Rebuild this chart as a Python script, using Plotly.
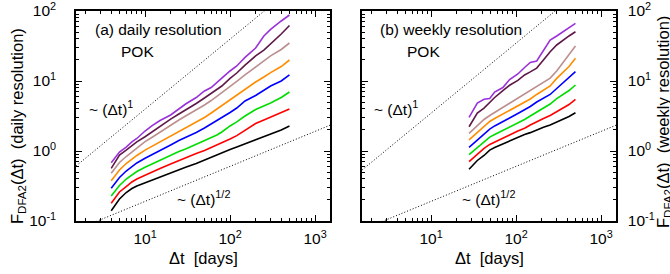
import plotly.graph_objects as go

W, H = 670, 274

# ---------------- data: panel (a) daily resolution ----------------
dt_daily = [4, 5, 6, 7, 8, 10, 12, 15, 20, 25, 30, 40, 50, 60, 70, 80,
            100, 120, 150, 200, 250, 300, 400, 500]
daily_black = [0.140, 0.206, 0.255, 0.291, 0.316, 0.352, 0.385, 0.425, 0.485, 0.544, 0.585, 0.663,
               0.743, 0.82, 0.891, 0.953, 1.05, 1.14, 1.26, 1.44, 1.61, 1.75, 2.0, 2.28]
daily_red = [0.179, 0.26, 0.311, 0.361, 0.398, 0.454, 0.50, 0.562, 0.652, 0.732, 0.80, 0.921,
             1.02, 1.12, 1.22, 1.30, 1.48, 1.66, 2.0, 2.47, 2.77, 3.06, 3.49, 3.98]
daily_green = [0.228, 0.321, 0.398, 0.461, 0.509, 0.585, 0.652, 0.743, 0.863, 0.984, 1.07, 1.24,
               1.39, 1.53, 1.69, 1.87, 2.28, 2.6, 3.16, 3.92, 4.4, 4.85, 5.81, 6.96]
daily_blue = [0.293, 0.418, 0.518, 0.601, 0.675, 0.787, 0.877, 1.02, 1.22, 1.41, 1.56, 1.84,
              2.13, 2.43, 2.73, 2.96, 3.55, 4.11, 5.18, 6.21, 7.44, 8.48, 10.0, 12.2]
daily_orange = [0.377, 0.535, 0.663, 0.769, 0.863, 1.03, 1.16, 1.35, 1.64, 1.90, 2.13, 2.55,
                3.01, 3.49, 3.98, 4.47, 5.44, 6.31, 7.69, 9.68, 11.4, 13.2, 16.1, 19.95]
daily_tan = [0.48, 0.685, 0.834, 0.968, 1.09, 1.36, 1.56, 1.87, 2.31, 2.77, 3.16, 3.85,
             4.54, 5.26, 6.01, 6.74, 8.34, 9.84, 12.2, 15.8, 19.3, 22.8, 28.2, 34.9]
daily_maroon = [0.566, 0.877, 1.03, 1.2, 1.35, 1.6, 1.87, 2.28, 2.86, 3.38, 3.85, 4.77,
                5.71, 6.63, 7.56, 8.48, 10.9, 13.0, 16.9, 22.8, 27.7, 33.8, 46.9, 62.1]
daily_purple = [0.68, 0.968, 1.14, 1.35, 1.51, 1.93, 2.28, 2.73, 3.27, 3.98, 4.69, 5.81,
                7.2, 8.07, 9.68, 11.0, 13.9, 16.4, 21.7, 29.6, 44.0, 54.5, 72.0, 87.7]

# ---------------- data: panel (b) weekly resolution ----------------
dt_weekly = [28, 35, 42, 49, 56, 70, 84, 105, 126, 147, 175, 210, 252, 301, 350, 420, 500]
weekly_black = [0.548, 0.732, 0.863, 1.03, 1.12, 1.26, 1.39, 1.58, 1.72, 1.83, 2.01, 2.19,
                2.35, 2.58, 2.77, 3.11, 3.52]
weekly_red = [0.703, 0.906, 1.09, 1.24, 1.33, 1.51, 1.69, 1.93, 2.11, 2.35, 2.64, 2.91,
              3.21, 3.67, 4.07, 4.61, 5.48]
weekly_green = [0.885, 1.12, 1.37, 1.58, 1.72, 1.96, 2.2, 2.55, 2.82, 3.16, 3.61, 4.14,
                4.69, 5.62, 6.31, 7.31, 8.77]
weekly_blue = [1.13, 1.44, 1.78, 2.06, 2.28, 2.6, 2.96, 3.43, 3.85, 4.32, 5.01, 5.71,
               6.42, 7.81, 9.21, 11.0, 13.6]
weekly_orange = [1.44, 1.84, 2.28, 2.64, 2.91, 3.38, 3.79, 4.4, 5.01, 5.53, 6.42, 7.44,
                 8.48, 10.9, 13.0, 16.1, 21.1]
weekly_tan = [1.79, 2.31, 2.82, 3.21, 3.55, 4.18, 4.85, 5.71, 6.41, 7.2, 8.34, 9.68,
              11.0, 13.9, 17.8, 23.5, 31.6]
weekly_maroon = [2.22, 3.49, 4.11, 5.01, 5.81, 7.31, 8.69, 10.2, 12.2, 13.5, 15.3, 19.95,
                 26.2, 32.7, 37.9, 44.0, 50.6]
weekly_purple = [3.03, 4.85, 5.48, 5.62, 6.96, 8.07, 10.5, 12.6, 15.6, 18.4, 19.3, 27.7,
                 38.5, 44.0, 50.1, 57.2, 66.7]

series_colors = ["#000000", "#ff0000", "#00dd00", "#0000ff",
                 "#ff8c00", "#bc8f8f", "#5e1848", "#9a32d8"]

daily_series = [daily_black, daily_red, daily_green, daily_blue,
                daily_orange, daily_tan, daily_maroon, daily_purple]
weekly_series = [weekly_black, weekly_red, weekly_green, weekly_blue,
                 weekly_orange, weekly_tan, weekly_maroon, weekly_purple]

# power-law guide lines: (prefactor, exponent)
guide_x = [1.0, 3000.0]
daily_guides = [(0.396, 1.0), (0.0603, 0.5)]
weekly_guides = [(0.347, 1.0), (0.0603, 0.5)]

x_tick_vals = [10, 100, 1000]
x_tick_text = ["10<sup>1</sup>", "10<sup>2</sup>", "10<sup>3</sup>"]
y_tick_vals = [0.1, 1, 10, 100]
y_tick_text = ["10<sup>-1</sup>", "10<sup>0</sup>", "10<sup>1</sup>", "10<sup>2</sup>"]
x_minor_vals = [m * 10 ** e for e in range(0, 4) for m in range(2, 10)]
y_minor_vals = [m * 10 ** e for e in range(-1, 2) for m in range(2, 10)]

# ---------------- figure ----------------
FONT = "Liberation Sans, Arial, Helvetica, sans-serif"
fig = go.Figure()

# invisible traces on the minor-tick axes (drawn first, underneath)
for xa, ya in [("x3", "y3"), ("x4", "y4")]:
    fig.add_trace(go.Scatter(x=[10], y=[1], mode="markers", marker=dict(opacity=0),
                             xaxis=xa, yaxis=ya, showlegend=False, hoverinfo="skip"))

for xa, ya, dts, sers, guides in [("x", "y", dt_daily, daily_series, daily_guides),
                                  ("x2", "y2", dt_weekly, weekly_series, weekly_guides)]:
    for (a, b) in guides:
        fig.add_trace(go.Scatter(x=guide_x, y=[a * g ** b for g in guide_x], mode="lines",
                                 line=dict(color="black", width=1, dash="1px,2px"),
                                 xaxis=xa, yaxis=ya, showlegend=False, hoverinfo="skip"))
    for vals, col in zip(sers, series_colors):
        fig.add_trace(go.Scatter(x=dts, y=vals, mode="lines",
                                 line=dict(color=col, width=1.6),
                                 xaxis=xa, yaxis=ya, showlegend=False))


def px_x(p):
    return p / W


def px_y(p):
    return 1 - p / H


xrange_log = [0.1875, 3.176]
yrange_log = [-1, 2]
xdom1 = [px_x(76), px_x(330)]
xdom2 = [px_x(362), px_x(616)]
ydom = [px_y(221), px_y(11)]

common = dict(type="log", ticks="inside", ticklen=6, tickwidth=1, tickcolor="black",
              showline=True, linecolor="black", linewidth=1.5, mirror="allticks",
              showgrid=False, zeroline=False, automargin=False,
              ticklabeloverflow="allow",
              tickfont=dict(family=FONT, size=15.5, color="black"))
common_x = dict(range=xrange_log, tickmode="array", tickvals=x_tick_vals, ticktext=x_tick_text,
                ticklabelstandoff=3, **common)
common_y = dict(range=yrange_log, tickmode="array", tickvals=y_tick_vals, ticktext=y_tick_text,
                **common)
minor_common = dict(type="log", ticks="inside", ticklen=3, tickwidth=1, tickcolor="black",
                    showline=False, mirror="allticks", showgrid=False, zeroline=False,
                    showticklabels=False, automargin=False, tickmode="array")

fig.update_layout(
    width=W, height=H,
    margin=dict(l=0, r=0, t=0, b=0),
    paper_bgcolor="white", plot_bgcolor="rgba(0,0,0,0)",
    font=dict(family=FONT, size=15, color="black"),
    xaxis3=dict(domain=xdom1, anchor="y3", range=xrange_log, tickvals=x_minor_vals, **minor_common),
    yaxis3=dict(domain=ydom, anchor="x3", range=yrange_log, tickvals=y_minor_vals, **minor_common),
    xaxis4=dict(domain=xdom2, anchor="y4", range=xrange_log, tickvals=x_minor_vals, **minor_common),
    yaxis4=dict(domain=ydom, anchor="x4", range=yrange_log, tickvals=y_minor_vals, **minor_common),
    xaxis=dict(domain=xdom1, anchor="y", **common_x),
    yaxis=dict(domain=ydom, anchor="x", ticklabelstandoff=15, **common_y),
    xaxis2=dict(domain=xdom2, anchor="y2", **common_x),
    yaxis2=dict(domain=ydom, anchor="x2", side="right",
                ticklabelstandoff=7, **common_y),
)

ann_font = dict(family=FONT, size=15.5, color="black")
title_font = dict(family=FONT, size=16.5, color="black")
annotations = [
    ("(a) daily resolution", 93, 29, "left", 0, ann_font),
    ("POK", 137, 51, "center", 0, ann_font),
    ("~ (Δt)<sup>1</sup>", 87, 108, "left", 0, ann_font),
    ("~ (Δt)<sup>1/2</sup>", 175, 198, "left", 0, ann_font),
    ("(b) weekly resolution", 378, 29, "left", 0, ann_font),
    ("POK", 423, 51, "center", 0, ann_font),
    ("~ (Δt)<sup>1</sup>", 372, 108, "left", 0, ann_font),
    ("~ (Δt)<sup>1/2</sup>", 460, 198, "left", 0, ann_font),
    ("Δt  [days]", 203, 258, "center", 0, title_font),
    ("Δt  [days]", 489, 258, "center", 0, title_font),
    ("F<sub>DFA2</sub>(Δt)  (daily resolution)", 18, 126, "center", -90, title_font),
    ("F<sub>DFA2</sub>(Δt)  (weekly resolution)", 664, 122, "center", -90, title_font),
]
for text, x, y, xanc, ang, fnt in annotations:
    fig.add_annotation(text=text, x=px_x(x), y=px_y(y), xref="paper", yref="paper",
                       xanchor=xanc, yanchor="middle", showarrow=False,
                       textangle=ang, font=fnt)

fig.write_html("out.html", config={"displayModeBar": False},
               post_script="document.body.style.margin='0';document.body.style.padding='0';")
